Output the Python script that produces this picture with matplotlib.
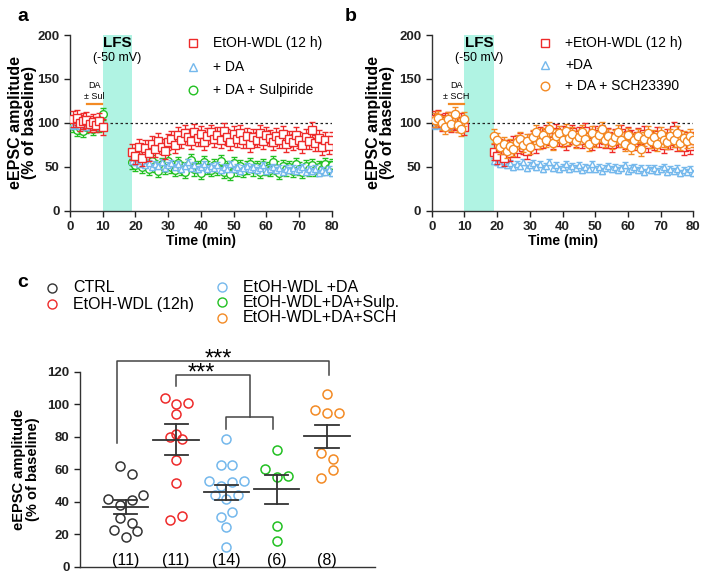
import numpy as np
import matplotlib
matplotlib.use('Agg')
import matplotlib.pyplot as plt
from matplotlib.lines import Line2D

plt.rcParams['font.family'] = ['Liberation Sans', 'DejaVu Sans']

# ---- time courses (% of baseline) ----
t_base = list(range(1, 11))
t_post = list(range(19, 81))

wdl_base = [104, 106, 100, 102, 103, 99, 101, 98, 102, 95]
wdl_post = [67, 62, 73, 60, 71, 66, 76, 70, 79, 73, 68, 78,
            82, 75, 86, 80, 88, 84, 79, 90, 83, 87, 78, 85,
            89, 82, 86, 80, 91, 84, 78, 87, 82, 88, 80, 85,
            76, 84, 81, 88, 79, 86, 83, 78, 85, 80, 87, 76,
            82, 78, 86, 80, 75, 84, 79, 92, 77, 83, 72, 80, 74, 80]
da_base = [97, 98, 96, 97, 95, 98, 96, 97, 95, 96]
da_post = [57, 55, 53, 56, 52, 54, 50, 53, 51, 55, 49, 52,
           54, 50, 53, 48, 51, 55, 49, 52, 47, 50, 53, 48,
           51, 49, 52, 46, 50, 48, 53, 47, 50, 45, 49, 51,
           47, 50, 46, 49, 52, 45, 48, 50, 46, 49, 44, 48,
           46, 49, 45, 47, 50, 44, 47, 45, 48, 43, 46, 44, 47, 43]
sul_base = [96, 92, 94, 91, 95, 97, 93, 98, 96, 110]
sul_post = [55, 52, 58, 50, 54, 48, 56, 51, 45, 53, 49, 57,
            50, 46, 54, 48, 44, 52, 58, 47, 50, 43, 55, 49,
            46, 52, 48, 56, 44, 50, 42, 54, 47, 51, 45, 49,
            53, 47, 50, 44, 52, 48, 46, 55, 49, 43, 51, 47,
            50, 45, 53, 48, 44, 51, 47, 52, 46, 50, 48, 53, 49, 52]
sch_base = [103, 105, 100, 95, 104, 99, 110, 97, 93, 104]
sch_post = [85, 80, 72, 76, 68, 74, 70, 78, 82, 75, 79, 73,
            84, 90, 78, 86, 81, 93, 77, 85, 88, 80, 91, 83,
            87, 79, 84, 90, 82, 76, 88, 81, 86, 93, 80, 85,
            78, 84, 89, 81, 76, 86, 72, 80, 85, 70, 82, 88,
            79, 84, 76, 87, 81, 78, 85, 80, 88, 77, 83, 79, 85, 80]
wdl_sem = 9
da_sem = 3.5
sul_sem = 7
sch_sem = 8

# ---- panel c: individual cells ----
group_labels = ['CTRL', 'EtOH-WDL (12h)', 'EtOH-WDL +DA',
                'EtOH-WDL+DA+Sulp.', 'EtOH-WDL+DA+SCH']
ctrl_vals = [62, 57, 42, 38, 41, 44, 30, 27, 23, 18.5, 22]
wdl_vals = [104, 100, 101, 94, 82, 80, 79, 66, 51.5, 29, 31.5]
da_vals = [79, 63, 63, 53, 50, 52, 53, 44.5, 42, 44.5, 31, 34, 24.4, 12]
sul_vals = [72, 60.5, 55.5, 55.7, 25, 16]
sch_vals = [106.5, 96.7, 94.5, 94.7, 69.9, 66.4, 54.7, 59.4]
group_means = [36.9, 78.3, 45.9, 47.7, 80.3]
group_sems = [4.3, 9.4, 4.4, 8.9, 7.2]

RED = '#ee2a2a'
BLUE = '#74b8ec'
GREEN = '#22c022'
ORANGE = '#f38a24'
BLACK = '#333333'
BAND = '#b0f3e3'
AXC = '#333333'

W, H = 702, 574


def fx(px):
    return px / W


def fy(py):
    return 1 - py / H


def style_axes(ax):
    for s in ['top', 'right']:
        ax.spines[s].set_visible(False)
    for s in ['left', 'bottom']:
        ax.spines[s].set_color(AXC)
        ax.spines[s].set_linewidth(1.0)
    ax.tick_params(colors='#222222', width=1.0, length=4, labelsize=9.5)
    for lab in ax.get_xticklabels() + ax.get_yticklabels():
        lab.set_fontweight('bold')


def fig_legend(fig, entries, fontsize):
    # entries: (marker x px, y px, marker, color, label)
    for x, y, marker, color, label in entries:
        fig.add_artist(Line2D([fx(x)], [fy(y)], transform=fig.transFigure,
                              ls='none', marker=marker, mfc='white', mec=color,
                              ms=6.2, mew=1.0))
        fig.text(fx(x + 20), fy(y), label, fontsize=fontsize, va='center',
                 ha='left')


def plot_time_course(ax, series, drug_text, label_x):
    ax.axvspan(10, 19, color=BAND, lw=0, zorder=0)
    ax.plot([0, 80], [100, 100], color='#222222', ls=(0, (2, 2)), lw=0.9, zorder=1)
    for (yb, yp, sem, marker, color, ms, z) in series:
        t = t_base + t_post
        y = yb + yp
        ax.errorbar(t, y, yerr=sem, fmt=marker, mfc='white', mec=color,
                    ecolor=color, ms=ms, mew=1.0, elinewidth=0.9,
                    capsize=2.2, capthick=0.9, zorder=z)
    ax.plot([5.2, 9.8], [122, 122], color=ORANGE, lw=1.6, zorder=3)
    ax.text(7.5, 143, 'DA', ha='center', va='center', fontsize=6.5)
    ax.text(7.5, 130, drug_text, ha='center', va='center', fontsize=6.5)
    ax.text(14.5, 191, 'LFS', ha='center', va='center', fontsize=11,
            fontweight='bold')
    ax.text(14.5, 174, '(-50 mV)', ha='center', va='center', fontsize=9)
    ax.set_xlim(0, 80)
    ax.set_ylim(0, 200)
    ax.set_xticks(range(0, 81, 10))
    ax.set_yticks([0, 50, 100, 150, 200])
    ax.set_xlabel('Time (min)', fontsize=10, fontweight='bold', labelpad=1)
    ax.set_ylabel('eEPSC amplitude\n(% of baseline)', fontsize=11.5,
                  fontweight='bold', linespacing=0.95)
    ax.yaxis.set_label_coords(label_x, 0.5)
    style_axes(ax)


def swarm_offsets(values, binw=9, step=0.23):
    vals = np.asarray(values, dtype=float)
    bins = np.floor(vals / binw)
    off = np.zeros(len(vals))
    for b in np.unique(bins):
        idx = np.where(bins == b)[0]
        k = len(idx)
        off[idx] = (np.arange(k) - (k - 1) / 2) * step
    return off


fig = plt.figure(figsize=(7.02, 5.74), dpi=100)

ax_a = fig.add_axes([0.0997, 0.633, 0.373, 0.306])
ax_b = fig.add_axes([0.615, 0.633, 0.3727, 0.306])
ax_c = fig.add_axes([0.114, 0.0122, 0.420, 0.340])

plot_time_course(ax_a,
                 [(sul_base, sul_post, sul_sem, 'o', GREEN, 5.5, 3),
                  (da_base, da_post, da_sem, '^', BLUE, 5, 4),
                  (wdl_base, wdl_post, wdl_sem, 's', RED, 5.5, 5)],
                 '± Sul', -0.125)
plot_time_course(ax_b,
                 [(da_base, da_post, da_sem, '^', BLUE, 5, 3),
                  (wdl_base, wdl_post, wdl_sem, 's', RED, 5.5, 4),
                  (sch_base, sch_post, sch_sem, 'o', ORANGE, 6, 5)],
                 '± SCH', -0.14)

fig_legend(fig, [(193, 43, 's', RED, 'EtOH-WDL (12 h)'),
                 (193, 67, '^', BLUE, '+ DA'),
                 (193, 90, 'o', GREEN, '+ DA + Sulpiride')], 10)
fig_legend(fig, [(545, 43, 's', RED, '+EtOH-WDL (12 h)'),
                 (545, 65, '^', BLUE, '+DA'),
                 (545, 86, 'o', ORANGE, '+ DA + SCH23390')], 10)

# ---- panel c ----
groups = [ctrl_vals, wdl_vals, da_vals, sul_vals, sch_vals]
gcolors = [BLACK, RED, BLUE, GREEN, ORANGE]
for i, (vals, c) in enumerate(zip(groups, gcolors)):
    xpos = i + 1
    off = swarm_offsets(vals)
    ax_c.plot(xpos + off, vals, ls='none', marker='o', mfc='none', mec=c,
              ms=6.5, mew=1.1, zorder=3)
    m, s = group_means[i], group_sems[i]
    ax_c.plot([xpos - 0.45, xpos + 0.45], [m, m], color=BLACK, lw=1.3, zorder=4)
    ax_c.plot([xpos, xpos], [m - s, m + s], color=BLACK, lw=1.3, zorder=4)
    for yy in (m - s, m + s):
        ax_c.plot([xpos - 0.23, xpos + 0.23], [yy, yy], color=BLACK, lw=1.3,
                  zorder=4)
    ax_c.text(xpos, 4, f'({len(vals)})', ha='center', va='center', fontsize=11.5)

bk = dict(color='#444444', lw=1.1, clip_on=False)
ax_c.plot([0.82, 0.82, 5.03, 5.03], [76, 126.8, 126.8, 118], **bk)
ax_c.plot([2, 2, 3.47, 3.47], [111, 118, 118, 92], **bk)
ax_c.plot([3, 3, 3.93, 3.93], [85, 92, 92, 85], **bk)
ax_c.text(2.83, 124.0, '***', ha='center', va='baseline', fontsize=17)
ax_c.text(2.5, 115.0, '***', ha='center', va='baseline', fontsize=17)

ax_c.set_xlim(0.09, 5.95)
ax_c.set_ylim(0, 120)
ax_c.set_xticks([])
ax_c.set_yticks(range(0, 121, 20))
ax_c.set_ylabel('eEPSC amplitude\n(% of baseline)', fontsize=10.5,
                fontweight='bold', linespacing=0.95)
ax_c.yaxis.set_label_coords(-0.136, 0.5)
style_axes(ax_c)

# legend for panel c
cx = [52, 52, 222, 222, 222]
cy = [288, 304, 287, 302, 318]
for x, y, c, lab in zip(cx, cy, gcolors, group_labels):
    fig.add_artist(Line2D([fx(x)], [fy(y)], transform=fig.transFigure,
                          ls='none', marker='o', mfc='none', mec=c,
                          ms=6.5, mew=1.0))
    fig.text(fx(x + 21), fy(y), lab, fontsize=11.5, va='center', ha='left')

fig.text(fx(17), fy(8), 'a', fontsize=14, fontweight='bold', va='top')
fig.text(fx(345), fy(8), 'b', fontsize=14, fontweight='bold', va='top')
fig.text(fx(17), fy(274), 'c', fontsize=14, fontweight='bold', va='top')

fig.savefig('out.png', dpi=100)
